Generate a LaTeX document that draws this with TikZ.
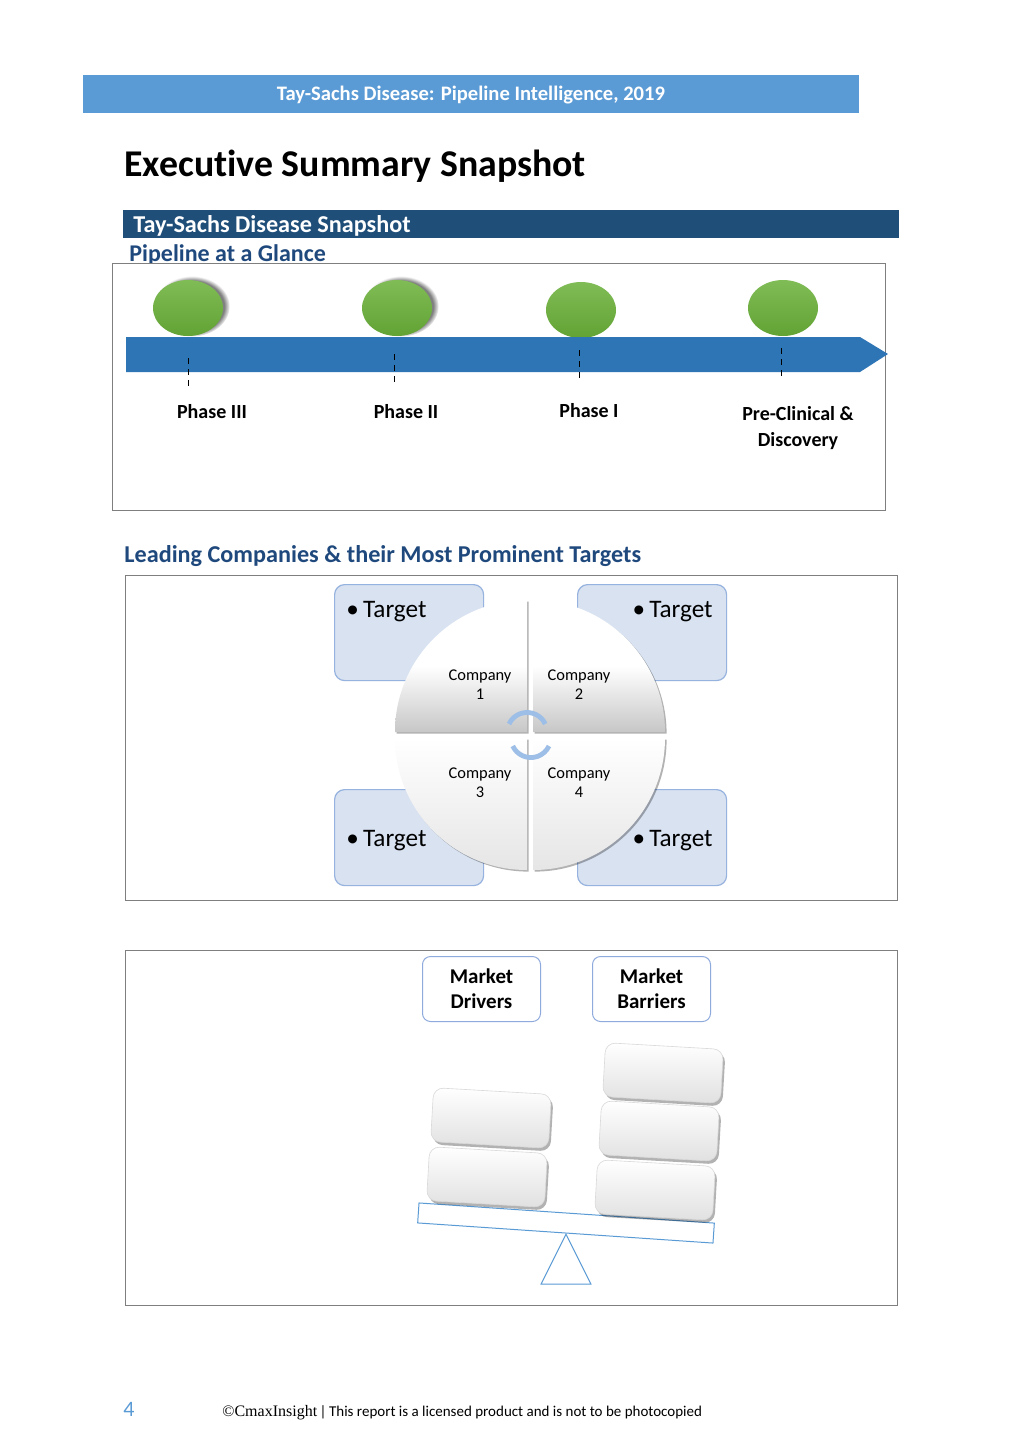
\documentclass[tikz,border=0pt]{standalone}
\usepackage{fontspec}
\setmainfont[Ligatures=NoCommon]{Carlito}
\newfontfamily\serifcm{Liberation Serif}
\usetikzlibrary{shapes.geometric,shadows}
\definecolor{hdrblue}{RGB}{91,155,213}
\definecolor{darkbar}{RGB}{31,78,121}
\definecolor{navytext}{RGB}{31,73,125}
\definecolor{arrowblue}{RGB}{46,117,182}
\definecolor{boxgray}{RGB}{127,127,127}
\definecolor{tgtfill}{RGB}{216,226,241}
\definecolor{tgtdraw}{RGB}{150,178,222}
\definecolor{mktdraw}{RGB}{143,170,220}
\definecolor{balblue}{RGB}{91,155,213}
\definecolor{ringblue}{RGB}{157,190,230}
\definecolor{ballhi}{RGB}{128,188,86}
\definecolor{balllo}{RGB}{98,163,52}
\begin{document}
\begin{tikzpicture}[x=0.5pt,y=0.5pt,
  panel/.style={draw=boxgray, line width=0.6pt, fill=none},
  ball/.style={ellipse, minimum width=35pt, minimum height=28pt, inner sep=0pt, top color=ballhi, bottom color=balllo},
  ballshadow/.style={ball, circular drop shadow={shadow xshift=1.8pt, shadow yshift=0.8pt, shadow scale=1.08}},
  tick/.style={draw=black, line width=0.5pt, dash pattern=on 3pt off 2.5pt},
  phase/.style={font=\fontsize{10}{13}\selectfont\bfseries, align=center},
  tgt/.style={draw=tgtdraw, fill=tgtfill, rounded corners=5pt, minimum width=74.5pt, minimum height=48pt, inner sep=0pt, line width=0.6pt},
  tgttext/.style={font=\fontsize{12.6}{15}\selectfont, inner sep=0pt},
  quadtop/.style={top color=white, bottom color=black!22, middle color=white, drop shadow={shadow xshift=0.8pt, shadow yshift=-0.8pt, fill=black, opacity=0.3}},
  quadbot/.style={top color=white, bottom color=black!10, drop shadow={shadow xshift=0.8pt, shadow yshift=-0.8pt, fill=black, opacity=0.3}},
  comp/.style={font=\fontsize{8.2}{9.5}\selectfont, align=center, inner sep=0pt},
  mkt/.style={draw=mktdraw, fill=white, rounded corners=4pt, minimum width=59pt, minimum height=32.5pt, inner sep=0pt, align=center, font=\fontsize{10.5}{12.5}\selectfont\bfseries, line width=0.5pt},
  block/.style={rounded corners=5pt, minimum width=59pt, minimum height=27pt, inner sep=0pt, top color=white, bottom color=black!12, draw=black!15, line width=0.3pt, rotate=-3.3, drop shadow={shadow xshift=1pt, shadow yshift=-1.5pt, fill=black, opacity=0.3}},
]
\useasboundingbox[fill=white] (0,0) rectangle (1023,-1447);

% header bar
\node[fill=hdrblue, minimum width=388pt, minimum height=19pt, inner sep=0pt, anchor=north west] (hdr) at (83,-75) {};
\node[text=white, font=\fontsize{10.3}{12}\selectfont\bfseries, inner sep=0pt] (hdrtxt) at (471,-95) {Tay-Sachs Disease: Pipeline Intelligence, 2019};

% title
\node[anchor=base west, inner sep=0pt, font=\fontsize{18.9}{23}\selectfont\bfseries] (title) at (124,-176) {Executive Summary Snapshot};

% snapshot bar
\node[fill=darkbar, minimum width=388pt, minimum height=14pt, inner sep=0pt, anchor=north west] (snapbar) at (123,-210) {};
\node[anchor=base west, inner sep=0pt, text=white, font=\fontsize{12.1}{14}\selectfont\bfseries] (snaptxt) at (133,-232) {Tay-Sachs Disease Snapshot};

% pipeline at a glance
\node[anchor=base west, inner sep=0pt, text=navytext, font=\fontsize{12}{14}\selectfont\bfseries] (pagl) at (129,-261) {Pipeline at a Glance};
\node[panel, minimum width=386.5pt, minimum height=123.5pt, inner sep=0pt, anchor=north west, fill=white] (pbox) at (112,-263) {};

% balls
\node[ballshadow] (b1) at (188,-308) {};
\node[ballshadow] (b2) at (397,-308) {};
\node[ball] (b3) at (581,-310) {};
\node[ball] (b4) at (783,-308) {};

% arrow bar
\fill[arrowblue] (126,-337) -- (860,-337) -- (888,-354) -- (860,-372) -- (126,-372) -- cycle;
\coordinate (arrowtip) at (888,-354);

% ticks
\coordinate (t1a) at (188,-358); \coordinate (t1b) at (188,-386);
\coordinate (t2a) at (394,-354); \coordinate (t2b) at (394,-382);
\coordinate (t3a) at (579,-350); \coordinate (t3b) at (579,-380);
\coordinate (t4a) at (781,-348); \coordinate (t4b) at (781,-380);
\draw[tick] (t1a) -- (t1b);
\draw[tick] (t2a) -- (t2b);
\draw[tick] (t3a) -- (t3b);
\draw[tick] (t4a) -- (t4b);

\node[phase] (p3) at (212,-412) {Phase III};
\node[phase] (p2) at (406,-412) {Phase II};
\node[phase] (p1) at (589,-411) {Phase I};
\node[phase] (p0) at (798,-428) {Pre-Clinical \&\\Discovery};

% leading companies
\node[anchor=base west, inner sep=0pt, text=navytext, font=\fontsize{12.1}{14}\selectfont\bfseries] (lead) at (124,-562) {Leading Companies \& their Most Prominent Targets};
\node[panel, minimum width=386pt, minimum height=162.5pt, inner sep=0pt, anchor=north west] (cbox) at (125,-575) {};

\node[tgt, anchor=north west] (tg1) at (334,-584) {};
\node[tgt, anchor=north west] (tg2) at (577,-584) {};
\node[tgt, anchor=north west] (tg3) at (334,-789) {};
\node[tgt, anchor=north west] (tg4) at (577,-789) {};
\node[tgttext, anchor=base west] (tt1) at (346,-617) {\textbullet\,Target};
\node[tgttext, anchor=base east] (tt2) at (713,-617) {\textbullet\,Target};
\node[tgttext, anchor=base west] (tt3) at (346,-846) {\textbullet\,Target};
\node[tgttext, anchor=base east] (tt4) at (713,-846) {\textbullet\,Target};

% circle quadrants
\path[quadtop] (527,-732) -- (395,-732) arc[start angle=180, end angle=90, radius=66pt] -- cycle;
\path[quadtop] (533,-732) -- (533,-600) arc[start angle=90, end angle=0, radius=66pt] -- cycle;
\path[quadbot] (527,-738) -- (527,-870) arc[start angle=270, end angle=180, radius=66pt] -- cycle;
\path[quadbot] (533,-738) -- (665,-738) arc[start angle=0, end angle=-90, radius=66pt] -- cycle;

% center ring arcs
\draw[ringblue, line width=2.4pt] (509,-724) arc[start angle=155, end angle=25, radius=10pt];
\draw[ringblue, line width=2.4pt] (549,-746) arc[start angle=-25, end angle=-155, radius=10pt];

\node[comp] (c1) at (480,-685) {Company\\1};
\node[comp] (c2) at (579,-685) {Company\\2};
\node[comp] (c3) at (480,-783) {Company\\3};
\node[comp] (c4) at (579,-783) {Company\\4};

% market balance
\node[panel, minimum width=386pt, minimum height=177.5pt, inner sep=0pt, anchor=north west] (mbox) at (125,-950) {};
\node[mkt] (md) at (481.5,-989) {Market\\Drivers};
\node[mkt] (mb) at (651.5,-989) {Market\\Barriers};

\node[draw=balblue, line width=0.5pt, minimum width=148pt, minimum height=10pt, inner sep=0pt, rotate=-3.9] (beam) at (566,-1223) {};
\node[draw=balblue, line width=0.5pt, isosceles triangle, isosceles triangle apex angle=53, shape border rotate=90, minimum height=25pt, inner sep=0pt, anchor=apex] (fulcrum) at (566,-1233) {};

\node[block] (d2) at (487,-1177) {};
\node[block] (d1) at (491,-1118) {};
\node[block] (r3) at (655,-1190) {};
\node[block] (r2) at (659,-1131) {};
\node[block] (r1) at (663,-1073) {};

% footer
\node[anchor=base west, inner sep=0pt, text=hdrblue, font=\fontsize{11}{13}\selectfont] (pg) at (123,-1416) {4};
\node[anchor=base west, inner sep=0pt, font=\fontsize{7.5}{9}\selectfont] (foot) at (222,-1416) {{\serifcm\fontsize{8}{9}\selectfont ©CmaxInsight}\,|\,This report is a licensed product and is not to be photocopied};
\end{tikzpicture}
\end{document}
